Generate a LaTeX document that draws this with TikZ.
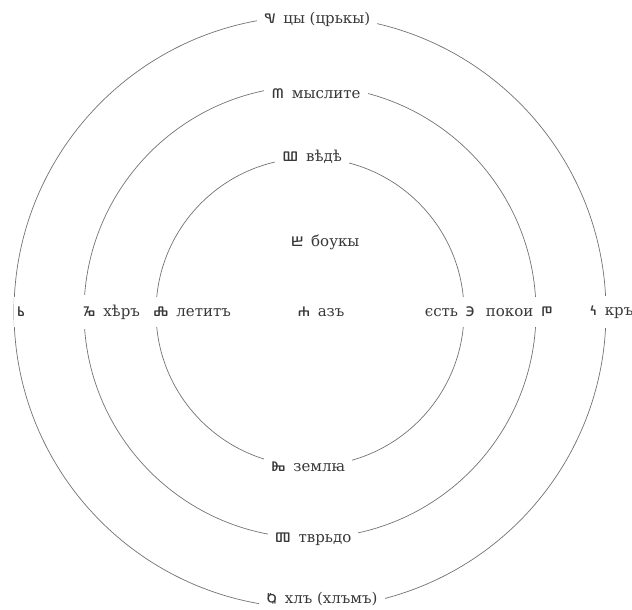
\documentclass[tikz,border=0pt]{standalone}
\usepackage{fontspec}
\setmainfont{DejaVu Serif}
\newfontfamily\glagfont{Noto Sans Glagolitic}
\newcommand\gl[1]{{\glagfont\fontsize{18}{18}\selectfont #1}}
\newcommand\gsp{\hspace{0.5em}}
\tikzset{
  ring/.style={draw=black!55, line width=0.7pt},
  lab/.style={fill=white, text=black!78, font=\fontsize{15}{15}\selectfont, inner xsep=7pt, inner ysep=4pt},
  sidelab/.style={fill=white, text=black!78, font=\fontsize{15}{15}\selectfont, inner xsep=3pt, inner ysep=10pt}
}
\begin{document}
\begin{tikzpicture}[x=1pt,y=-1pt]
\useasboundingbox (0,0) rectangle (632,610);
\fill[white] (0,0) rectangle (632,610);
\coordinate (C) at (310,312);
\draw[ring] (C) circle[radius=154];
\draw[ring] (C) circle[radius=226];
\draw[ring] (C) circle[radius=296];
% top / bottom labels
\node[lab] (tsi) at (317,19) {\gl{ⱌ}\gsp цы (црькы)};
\node[lab] (mysl) at (316,94) {\gl{ⰿ}\gsp мыслите};
\node[lab] (vede) at (312,157) {\gl{ⰲ}\gsp вѣдѣ};
\node[lab] (buky) at (325,242) {\gl{ⰱ}\gsp боукы};
\node[lab] (az) at (321,312) {\gl{ⰰ}\gsp азъ};
\node[lab] (zem) at (308,467) {\gl{ⰸ}\gsp землꙗ};
\node[lab] (tv) at (313,539) {\gl{ⱅ}\gsp тврьдо};
\node[lab] (khl) at (322,599) {\gl{ⱒ}\gsp хлъ (хлъмъ)};
% left / right labels
\node[sidelab] (rtsi) at (21,312) {\gl{ⱃ}};
\node[sidelab, anchor=west] (kher) at (80,312) {\gl{ⱈ}\gsp хѣръ};
\node[sidelab, anchor=west] (ljudi) at (150,312) {\gl{ⰾ}\gsp летитъ};
\node[sidelab, anchor=east] (est) at (478,312) {єсть\gsp\gl{ⰵ}};
\node[sidelab, anchor=east] (pokoi) at (556,312) {покои\gsp\gl{ⱂ}};
\node[sidelab, anchor=west] (kako) at (587,312) {\gl{ⰽ}\gsp кръ};
\end{tikzpicture}
\end{document}
